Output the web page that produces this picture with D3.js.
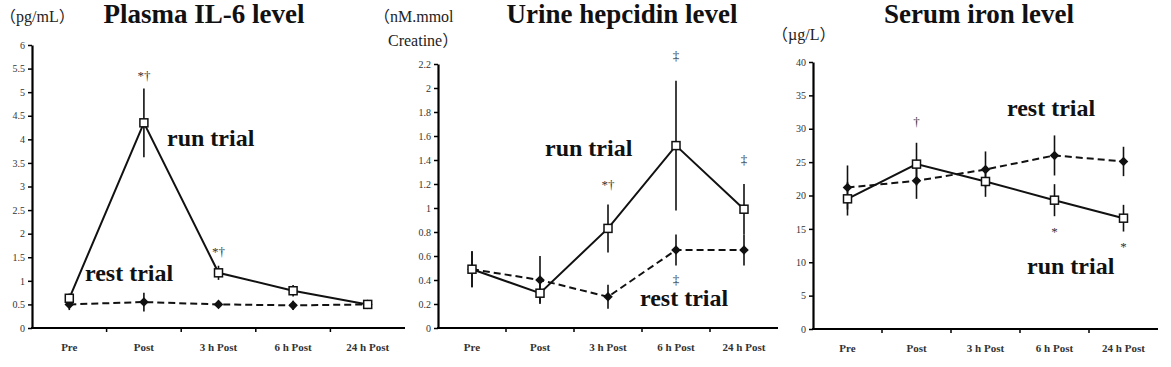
<!DOCTYPE html>
<html>
<head>
<meta charset="utf-8">
<script src="https://cdn.jsdelivr.net/npm/d3@7"></script>
<style>
  body { margin: 0; background: #fff; }
  svg { display: block; }
  svg text { font-family: "Liberation Serif", "Times New Roman", "Noto Sans CJK SC", serif; }
</style>
</head>
<body>
<svg id="chart" width="1171" height="367"></svg>
<script>
const timepoints = ["Pre", "Post", "3 h Post", "6 h Post", "24 h Post"];

// plasma IL-6 (pg/mL)
const il6Run = [0.63, 4.35, 1.17, 0.79, 0.5];
const il6RunErr = [0.1, 0.73, 0.15, 0.12, 0.08];
const il6Rest = [0.5, 0.55, 0.5, 0.48, 0.5];
const il6RestErr = [0.12, 0.2, 0.06, 0.1, 0.06];
const il6Marks = [["Post", 5.35, "*†"], ["3 h Post", 1.62, "*†"]];

// urine hepcidin
const hepRun = [0.49, 0.29, 0.83, 1.52, 0.99];
const hepRunErr = [0.15, 0.08, 0.2, 0.54, 0.21];
const hepRest = [0.49, 0.4, 0.26, 0.65, 0.65];
const hepRestErr = [0.15, 0.2, 0.1, 0.13, 0.13];
const hepMarks = [["3 h Post", 1.19, "*†"], ["6 h Post", 2.27, "‡"], ["24 h Post", 1.4, "‡"], ["6 h Post", 0.4, "‡"]];

// serum iron
const ironRun = [19.5, 24.7, 22.1, 19.3, 16.6];
const ironRunErr = [2.5, 3.2, 2.3, 2.4, 2.0];
const ironRest = [21.2, 22.2, 23.9, 26.0, 25.1];
const ironRestErr = [3.3, 2.7, 2.7, 3.0, 2.2];
const ironMarks = [["Post", 31, "†"], ["6 h Post", 14.5, "*"], ["24 h Post", 12.3, "*"]];

const svg = d3.select("#chart");
const serif = "Liberation Serif, Times New Roman, serif";

function drawPanel(p) {
  const g = svg.append("g");
  let x = d3.scaleBand().domain(timepoints).range([p.left, p.right]);
  let cx = (c) => x(c) + x.bandwidth() / 2;
  let y = d3.scaleLinear().domain([0, p.yMax]).range([p.bottom, p.top]);

  // y axis
  g.append("g")
    .attr("transform", `translate(${p.left},0)`)
    .call(d3.axisLeft(y).tickValues(d3.range(0, p.yMax + p.step / 2, p.step)).tickSize(4).tickSizeOuter(0)
      .tickFormat((d) => String(+d.toFixed(1))))
    .call((a) => a.select(".domain").attr("stroke-width", 2.2))
    .call((a) => a.selectAll("line").attr("stroke-width", 1.5))
    .call((a) => a.selectAll("text").attr("font-size", 10).attr("fill", "#333").attr("font-family", serif));

  // x axis: line, boundary ticks, labels
  g.append("line")
    .attr("x1", p.left - 1).attr("x2", p.right)
    .attr("y1", p.bottom).attr("y2", p.bottom)
    .attr("stroke", "#000").attr("stroke-width", 2.2);
  g.selectAll(".xt").data(timepoints.slice(1)).join("line")
    .attr("x1", (d) => x(d)).attr("x2", (d) => x(d))
    .attr("y1", p.bottom).attr("y2", p.bottom + 4)
    .attr("stroke", "#000").attr("stroke-width", 1.5);
  g.selectAll(".xl").data(timepoints).join("text")
    .attr("x", cx).attr("y", p.bottom + 23)
    .attr("text-anchor", "middle").attr("font-size", 11).attr("font-weight", "bold")
    .attr("fill", "#333").text((d) => d);

  let line = (vals) => d3.line().x((d, i) => cx(timepoints[i])).y((d) => y(d))(vals);

  // error bars
  [[p.rest, p.restErr], [p.run, p.runErr]].forEach(([vals, errs]) => {
    g.selectAll(null).data(vals).join("line")
      .attr("x1", (d, i) => cx(timepoints[i])).attr("x2", (d, i) => cx(timepoints[i]))
      .attr("y1", (d, i) => y(d - errs[i])).attr("y2", (d, i) => y(d + errs[i]))
      .attr("stroke", "#111").attr("stroke-width", 1.6);
  });

  g.append("path").attr("d", line(p.rest)).attr("fill", "none")
    .attr("stroke", "#111").attr("stroke-width", 2).attr("stroke-dasharray", "7,4");
  g.append("path").attr("d", line(p.run)).attr("fill", "none")
    .attr("stroke", "#111").attr("stroke-width", 2);

  g.selectAll(null).data(p.rest).join("path")
    .attr("d", d3.symbol(d3.symbolSquare, 46))
    .attr("transform", (d, i) => `translate(${cx(timepoints[i])},${y(d)}) rotate(45)`)
    .attr("fill", "#111");
  g.selectAll(null).data(p.run).join("rect")
    .attr("x", (d, i) => cx(timepoints[i]) - 4).attr("y", (d) => y(d) - 4)
    .attr("width", 8).attr("height", 8)
    .attr("fill", "#fff").attr("stroke", "#111").attr("stroke-width", 1.5);

  // significance marks
  g.selectAll(null).data(p.marks).join("text")
    .attr("x", (d) => cx(d[0])).attr("y", (d) => y(d[1]) + 4)
    .attr("text-anchor", "middle").attr("font-size", 13).attr("fill", "#333")
    .text((d) => d[2]);

  // trial labels
  g.append("text").attr("x", p.runLabel[0]).attr("y", p.runLabel[1])
    .attr("font-size", 24).attr("font-weight", "bold").attr("fill", "#111").text("run trial");
  g.append("text").attr("x", p.restLabel[0]).attr("y", p.restLabel[1])
    .attr("font-size", 24).attr("font-weight", "bold").attr("fill", "#111").text("rest trial");

  // title and unit
  g.append("text").attr("x", p.titleX).attr("y", 23)
    .attr("text-anchor", "middle").attr("font-size", 27).attr("font-weight", "bold")
    .attr("fill", "#111").text(p.title);
  p.unit.forEach((u) => {
    g.append("text").attr("x", u[0]).attr("y", u[1])
      .attr("font-size", 16).attr("fill", "#222").text(u[2]);
  });
}

drawPanel({
  left: 32, right: 405, top: 45, bottom: 328, yMax: 6, step: 0.5,
  run: il6Run, runErr: il6RunErr, rest: il6Rest, restErr: il6RestErr, marks: il6Marks,
  runLabel: [167, 146], restLabel: [85, 281],
  title: "Plasma IL-6 level", titleX: 204,
  unit: [[0, 22, "（pg/mL）"]]
});

drawPanel({
  left: 438, right: 778, top: 64, bottom: 328, yMax: 2.2, step: 0.2,
  run: hepRun, runErr: hepRunErr, rest: hepRest, restErr: hepRestErr, marks: hepMarks,
  runLabel: [545, 156], restLabel: [640, 306],
  title: "Urine hepcidin level", titleX: 622,
  unit: [[374, 22, "（nM.mmol"], [388, 46, "Creatine）"]]
});

drawPanel({
  left: 813, right: 1158, top: 62, bottom: 329, yMax: 40, step: 5,
  run: ironRun, runErr: ironRunErr, rest: ironRest, restErr: ironRestErr, marks: ironMarks,
  runLabel: [1027, 274], restLabel: [1007, 116],
  title: "Serum iron level", titleX: 979,
  unit: [[772, 40, "（µg/L）"]]
});
</script>
</body>
</html>
